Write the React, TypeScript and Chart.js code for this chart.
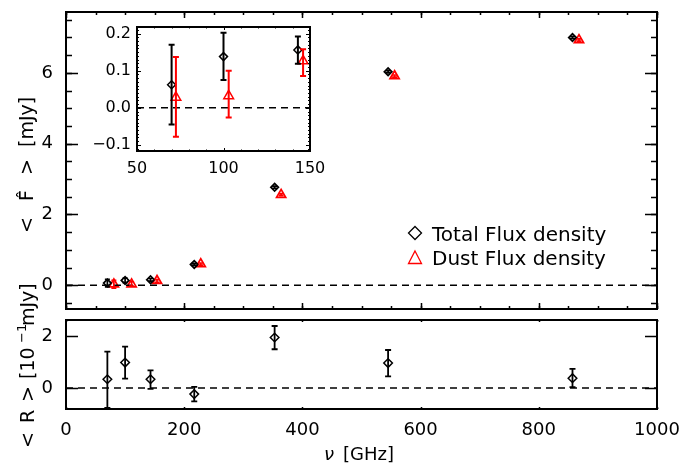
import React, { useEffect, useRef } from 'react';
import { Chart, registerables } from 'chart.js';
Chart.register(...registerables);

const FONT = '"DejaVu Sans", sans-serif';
const RED = '#ff0000';

// ---- data ----
const frequencies = [70, 100, 143, 217, 353, 545, 857];
const dustFrequencies = [81, 111, 154, 228, 364, 556, 868];
const totalFlux = [0.062, 0.138, 0.156, 0.59, 2.77, 6.03, 7.0];
const totalFluxLow = [-0.045, 0.075, 0.119, 0.56, 2.74, 6.0, 6.97];
const totalFluxHigh = [0.17, 0.202, 0.192, 0.62, 2.8, 6.06, 7.03];
const dustFlux = [0.028, 0.032, 0.126, 0.6, 2.56, 5.91, 6.93];
const dustFluxLow = [-0.078, -0.026, 0.086, 0.57, 2.53, 5.88, 6.9];
const dustFluxHigh = [0.137, 0.1, 0.158, 0.63, 2.59, 5.94, 6.96];
const insetFrequencies = [70, 100, 143];
const insetDustFrequencies = [72.5, 103, 146];
const residual = [0.34, 0.98, 0.34, -0.23, 1.94, 0.96, 0.38];
const residualLow = [-0.76, 0.36, -0.03, -0.51, 1.49, 0.45, 0.04];
const residualHigh = [1.4, 1.59, 0.68, 0.05, 2.38, 1.46, 0.74];
const zeroLineX = [0, 1000];
const insetZeroLineX = [50, 150];
const mainYTicks = [0, 2, 4, 6];
const residualYTicks = [0, 2];
const xTicks = [0, 200, 400, 600, 800, 1000];
const insetXTicks = [50, 100, 150];
const insetYTicks = [-0.1, 0, 0.1, 0.2];

const pts = (xs: number[], ys: number[]) => xs.map((x, i) => ({ x, y: ys[i] }));
const zeroPts = (xs: number[]) => xs.map((x) => ({ x, y: 0 }));

const errorBarPlugin = {
  id: 'errorBars',
  afterDatasetsDraw(chart: any) {
    const ctx = chart.ctx;
    const xs = chart.scales.x;
    const ys = chart.scales.y;
    const a = chart.chartArea;
    ctx.save();
    ctx.beginPath();
    ctx.rect(a.left, a.top, a.right - a.left, a.bottom - a.top);
    ctx.clip();
    chart.data.datasets.forEach((ds: any) => {
      if (!ds.errLow) return;
      ctx.strokeStyle = ds.borderColor;
      ctx.lineWidth = ds.errWidth || 1.5;
      const c = ds.capHalf || 3;
      ds.data.forEach((p: any, i: number) => {
        const px = xs.getPixelForValue(p.x);
        const y1 = ys.getPixelForValue(ds.errLow[i]);
        const y2 = ys.getPixelForValue(ds.errHigh[i]);
        ctx.beginPath();
        ctx.moveTo(px, y1);
        ctx.lineTo(px, y2);
        ctx.moveTo(px - c, y1);
        ctx.lineTo(px + c, y1);
        ctx.moveTo(px - c, y2);
        ctx.lineTo(px + c, y2);
        ctx.stroke();
      });
    });
    ctx.restore();
  },
};

const frameTicksPlugin = {
  id: 'frameTicks',
  beforeDraw(chart: any, _args: any, opts: any) {
    if (!opts.fill) return;
    const a = chart.chartArea;
    chart.ctx.save();
    chart.ctx.fillStyle = opts.fill;
    chart.ctx.fillRect(a.left, a.top, a.right - a.left, a.bottom - a.top);
    chart.ctx.restore();
  },
  afterDraw(chart: any, _args: any, opts: any) {
    const ctx = chart.ctx;
    const a = chart.chartArea;
    const xs = chart.scales.x;
    const ys = chart.scales.y;
    ctx.save();
    ctx.strokeStyle = '#000';
    ctx.lineWidth = opts.tickWidth || 1.5;
    const eps = 1e-6;
    const ticksX = (step: number, len: number) => {
      if (!step) return;
      const start = Math.ceil((xs.min - eps) / step) * step;
      ctx.beginPath();
      for (let v = start; v <= xs.max + eps; v += step) {
        const p = Math.round(xs.getPixelForValue(v)) + 0.5;
        ctx.moveTo(p, a.bottom);
        ctx.lineTo(p, a.bottom - len);
        ctx.moveTo(p, a.top);
        ctx.lineTo(p, a.top + len);
      }
      ctx.stroke();
    };
    const ticksY = (step: number, len: number) => {
      if (!step) return;
      const start = Math.ceil((ys.min - eps) / step) * step;
      ctx.beginPath();
      for (let v = start; v <= ys.max + eps; v += step) {
        const p = Math.round(ys.getPixelForValue(v)) + 0.5;
        ctx.moveTo(a.left, p);
        ctx.lineTo(a.left + len, p);
        ctx.moveTo(a.right, p);
        ctx.lineTo(a.right - len, p);
      }
      ctx.stroke();
    };
    ticksX(opts.xMinor, opts.xMinorLen);
    ticksX(opts.xMajor, opts.xMajorLen);
    ticksY(opts.yMinor, opts.yMinorLen);
    ticksY(opts.yMajor, opts.yMajorLen);
    ctx.lineWidth = opts.frameWidth || 2;
    ctx.strokeRect(a.left, a.top, a.right - a.left, a.bottom - a.top);
    ctx.restore();
  },
};

type Run = { text: string; font: string; at?: number; dy?: number };
function drawRuns(ctx: CanvasRenderingContext2D, runs: Run[], x: number, y: number, rot: number) {
  ctx.save();
  ctx.translate(x, y);
  ctx.rotate(rot);
  ctx.fillStyle = '#000';
  ctx.textAlign = 'left';
  ctx.textBaseline = 'alphabetic';
  let cur = 0;
  runs.forEach((r) => {
    ctx.font = r.font;
    const px = r.at !== undefined ? r.at : cur;
    ctx.fillText(r.text, px, r.dy || 0);
    cur = px + ctx.measureText(r.text).width;
  });
  ctx.restore();
}

const tickFont = { family: FONT, size: 18 };
const insetTickFont = { family: FONT, size: 16 };

function yAxis(min: number, max: number, ticks: number[], font: any, padding: number, width: number, fmt?: (v: number) => string) {
  return {
    type: 'linear',
    min,
    max,
    afterFit: (ax: any) => {
      ax.width = width;
      ax.paddingTop = 0;
      ax.paddingBottom = 0;
    },
    afterBuildTicks: (ax: any) => {
      ax.ticks = ticks.map((v) => ({ value: v }));
    },
    grid: { display: false, drawTicks: false },
    border: { display: false },
    ticks: {
      color: '#000',
      font,
      padding,
      callback: (v: any) => (fmt ? fmt(Number(v)) : String(v)),
    },
  };
}

function xAxis(min: number, max: number, ticks: number[], font: any, padding: number, height: number, display = true) {
  return {
    type: 'linear',
    min,
    max,
    display,
    afterFit: (ax: any) => {
      ax.height = height;
      ax.paddingLeft = 0;
      ax.paddingRight = 0;
    },
    afterBuildTicks: (ax: any) => {
      ax.ticks = ticks.map((v) => ({ value: v }));
    },
    grid: { display: false, drawTicks: false },
    border: { display: false },
    ticks: { color: '#000', font, padding, maxRotation: 0, autoSkip: false, callback: (v: any) => String(v) },
  };
}

const commonPlugins = { legend: { display: false }, tooltip: { enabled: false } };

export default function App() {
  const mainRef = useRef<HTMLCanvasElement>(null);
  const resRef = useRef<HTMLCanvasElement>(null);
  const insetRef = useRef<HTMLCanvasElement>(null);

  useEffect(() => {
    const charts: Chart[] = [];

    const mainTextPlugin = {
      id: 'mainText',
      afterDraw(chart: any) {
        const ctx = chart.ctx as CanvasRenderingContext2D;
        const f = `19px ${FONT}`;
        drawRuns(
          ctx,
          [
            { text: '<', font: f, at: 0 },
            { text: 'F\u0302', font: f, at: 32 },
            { text: '>', font: f, at: 58 },
            { text: '[mJy]', font: f, at: 86 },
          ],
          33,
          233,
          -Math.PI / 2
        );
        // legend
        ctx.save();
        ctx.lineWidth = 1.3;
        ctx.strokeStyle = '#000';
        ctx.beginPath();
        const dx = 415, dy = 233;
        ctx.moveTo(dx, dy - 6.5);
        ctx.lineTo(dx + 6.5, dy);
        ctx.lineTo(dx, dy + 6.5);
        ctx.lineTo(dx - 6.5, dy);
        ctx.closePath();
        ctx.stroke();
        ctx.strokeStyle = RED;
        ctx.beginPath();
        const tx = 415, ty = 258;
        ctx.moveTo(tx, ty - 7);
        ctx.lineTo(tx + 6.5, ty + 5.5);
        ctx.lineTo(tx - 6.5, ty + 5.5);
        ctx.closePath();
        ctx.stroke();
        ctx.fillStyle = '#000';
        ctx.font = `20px ${FONT}`;
        ctx.textBaseline = 'alphabetic';
        ctx.fillText('Total Flux density', 432, 241);
        ctx.fillText('Dust Flux density', 432, 265);
        ctx.restore();
      },
    };

    const resTextPlugin = {
      id: 'resText',
      afterDraw(chart: any) {
        const ctx = chart.ctx as CanvasRenderingContext2D;
        const f = `19px ${FONT}`;
        const fs = `13px ${FONT}`;
        drawRuns(
          ctx,
          [
            { text: '<', font: f, at: 0 },
            { text: 'R', font: f, at: 25 },
            { text: '>', font: f, at: 46 },
            { text: '[10', font: f, at: 69 },
            { text: '\u22121', font: fs, at: 105, dy: -8 },
            { text: 'mJy]', font: f, at: 122 },
          ],
          34,
          448,
          -Math.PI / 2
        );
        drawRuns(
          ctx,
          [
            { text: '\u03bd', font: `italic 18px ${FONT}`, at: 0 },
            { text: '[GHz]', font: `18px ${FONT}`, at: 19 },
          ],
          324,
          460,
          0
        );
      },
    };

    if (mainRef.current) {
      charts.push(
        new Chart(mainRef.current, {
          type: 'scatter',
          data: {
            datasets: [
              {
                data: zeroPts(zeroLineX),
                showLine: true,
                borderColor: '#000',
                borderWidth: 1.5,
                borderDash: [7, 5],
                pointRadius: 0,
              },
              {
                data: pts(frequencies, totalFlux),
                pointStyle: 'rectRot',
                pointRadius: 3.8,
                borderColor: '#000',
                backgroundColor: 'rgba(0,0,0,0)',
                borderWidth: 1.7,
                errLow: totalFluxLow,
                errHigh: totalFluxHigh,
                capHalf: 2.5,
                errWidth: 1.7,
              } as any,
              {
                data: pts(dustFrequencies, dustFlux),
                pointStyle: 'triangle',
                pointRadius: 5.3,
                borderColor: RED,
                backgroundColor: 'rgba(0,0,0,0)',
                borderWidth: 1.7,
                errLow: dustFluxLow,
                errHigh: dustFluxHigh,
                capHalf: 2.5,
                errWidth: 1.7,
              } as any,
            ],
          },
          options: {
            responsive: false,
            animation: false,
            events: [],
            layout: { padding: { left: 0, right: 38, top: 12, bottom: 157 } },
            scales: {
              x: xAxis(0, 1000, xTicks, tickFont, 10, 0, false) as any,
              y: yAxis(-0.67, 7.72, mainYTicks, tickFont, 13, 66) as any,
            },
            plugins: {
              ...commonPlugins,
              frameTicks: {
                xMajor: 200, xMajorLen: 6, xMinor: 50, xMinorLen: 3,
                yMajor: 2, yMajorLen: 12, yMinor: 0.5, yMinorLen: 6,
                frameWidth: 2, tickWidth: 1.5,
              },
            } as any,
          },
          plugins: [errorBarPlugin, frameTicksPlugin, mainTextPlugin] as any,
        })
      );
    }

    if (resRef.current) {
      charts.push(
        new Chart(resRef.current, {
          type: 'scatter',
          data: {
            datasets: [
              {
                data: zeroPts(zeroLineX),
                showLine: true,
                borderColor: '#000',
                borderWidth: 1.5,
                borderDash: [7, 5],
                pointRadius: 0,
              },
              {
                data: pts(frequencies, residual),
                pointStyle: 'rectRot',
                pointRadius: 4.3,
                borderColor: '#000',
                backgroundColor: 'rgba(0,0,0,0)',
                borderWidth: 1.5,
                errLow: residualLow,
                errHigh: residualHigh,
                capHalf: 3,
                errWidth: 1.8,
              } as any,
            ],
          },
          options: {
            responsive: false,
            animation: false,
            events: [],
            layout: { padding: { left: 0, right: 38, top: 320, bottom: 0 } },
            scales: {
              x: xAxis(0, 1000, xTicks, tickFont, 11, 57) as any,
              y: yAxis(-0.8, 2.61, residualYTicks, tickFont, 13, 66) as any,
            },
            plugins: {
              ...commonPlugins,
              frameTicks: {
                xMajor: 200, xMajorLen: 2, xMinor: 50, xMinorLen: 1,
                yMajor: 2, yMajorLen: 12, yMinor: 0, yMinorLen: 0,
                frameWidth: 2, tickWidth: 1.5,
              },
            } as any,
          },
          plugins: [errorBarPlugin, frameTicksPlugin, resTextPlugin] as any,
        })
      );
    }

    if (insetRef.current) {
      charts.push(
        new Chart(insetRef.current, {
          type: 'scatter',
          data: {
            datasets: [
              {
                data: zeroPts(insetZeroLineX),
                showLine: true,
                borderColor: '#000',
                borderWidth: 1.5,
                borderDash: [7, 5],
                pointRadius: 0,
              },
              {
                data: pts(insetFrequencies, totalFlux.slice(0, 3)),
                pointStyle: 'rectRot',
                pointRadius: 4,
                borderColor: '#000',
                backgroundColor: 'rgba(0,0,0,0)',
                borderWidth: 1.5,
                errLow: totalFluxLow.slice(0, 3),
                errHigh: totalFluxHigh.slice(0, 3),
                capHalf: 3,
                errWidth: 2,
              } as any,
              {
                data: pts(insetDustFrequencies, dustFlux.slice(0, 3)),
                pointStyle: 'triangle',
                pointRadius: 5.6,
                borderColor: RED,
                backgroundColor: 'rgba(0,0,0,0)',
                borderWidth: 1.5,
                errLow: dustFluxLow.slice(0, 3),
                errHigh: dustFluxHigh.slice(0, 3),
                capHalf: 3,
                errWidth: 2,
              } as any,
            ],
          },
          options: {
            responsive: false,
            animation: false,
            events: [],
            layout: { padding: { left: 77, right: 385, top: 27, bottom: 275 } },
            scales: {
              x: xAxis(50, 150, insetXTicks, insetTickFont, 8, 40) as any,
              y: yAxis(-0.1164, 0.2178, insetYTicks, insetTickFont, 6, 60, (v) =>
                v < 0 ? '\u2212' + Math.abs(v).toFixed(1) : v.toFixed(1)
              ) as any,
            },
            plugins: {
              ...commonPlugins,
              frameTicks: {
                xMajor: 50, xMajorLen: 3, xMinor: 10, xMinorLen: 1.5,
                yMajor: 0.1, yMajorLen: 4, yMinor: 0.01, yMinorLen: 2,
                frameWidth: 2, tickWidth: 1, fill: '#ffffff',
              },
            } as any,
          },
          plugins: [errorBarPlugin, frameTicksPlugin] as any,
        })
      );
    }

    return () => {
      charts.forEach((c) => c.destroy());
    };
  }, []);

  const cStyle: React.CSSProperties = { position: 'absolute', left: 0, top: 0 };
  return (
    <div style={{ position: 'fixed', left: 0, top: 0, width: 695, height: 466, background: '#fff' }}>
      <canvas ref={mainRef} width={695} height={466} style={cStyle} />
      <canvas ref={resRef} width={695} height={466} style={cStyle} />
      <canvas ref={insetRef} width={695} height={466} style={cStyle} />
    </div>
  );
}
